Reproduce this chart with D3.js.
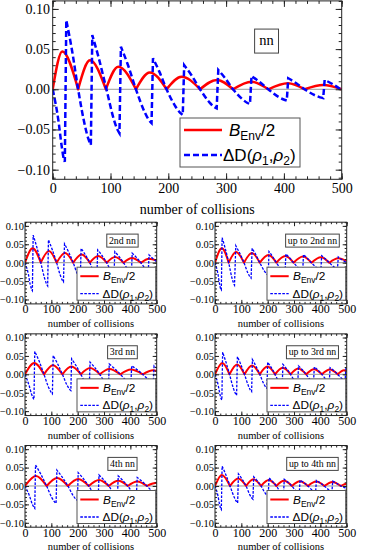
<!DOCTYPE html>
<html><head><meta charset="utf-8">
<script src="https://cdn.jsdelivr.net/npm/d3@7"></script>
<style>body{margin:0;background:#fff} svg{display:block}</style>
</head><body>
<svg id="c" width="380" height="559"></svg>
<script>
const xTicks=[0,100,200,300,400,500];
const yTicks=[-0.10,-0.05,0.00,0.05,0.10];
const xDomain=[0,500], yDomain=[-0.112,0.11];
const xMinorStep=20, yMinorStep=0.01;
const panelLabels=["nn","2nd nn","up to 2nd nn","3rd nn","up to 3rd nn","4th nn","up to 4th nn"];
const labelPos=[370,0.06];
const axisTitle="number of collisions";

const redNN=[[0,0],[16.6,0.047],[44,0],[64.5,0.036],[92,0],[113.5,0.028],[144,0],[168,0.021],[197,0],[223,0.0157],[255,0],[284,0.0116],[312,0],[344,0.0095],[373,0],[407,0.0075],[436,0],[468,0.0053],[500,0]];
const blueNN=[[0,0],[9.7,-0.038],[15.6,-0.071],[19,-0.086],[21,-0.09],
[23.5,0.086],[33.3,0.049],[44,0],[56,-0.046],[62.3,-0.063],[66,-0.069],
[68.5,0.0675],[79.8,0.0385],[93,0],[105.4,-0.0366],[111.7,-0.0498],[115.5,-0.0547],
[118,0.053],[130.2,0.0302],[144,0],[158.9,-0.0281],[166.4,-0.0382],[171,-0.042],
[173.5,0.0386],[184.5,0.022],[197,0],[212.4,-0.0214],[220.2,-0.0291],[225,-0.032],
[227.5,0.030],[240.4,0.0171],[255,0],[270.8,-0.0159],[278.8,-0.0216],[283.7,-0.0237],
[286.5,0.024],[298.5,0.0137],[312,0],[328.1,-0.0123],[336.3,-0.0167],[341.3,-0.0183],
[344,0.0165],[357.6,0.0094],[373,0],[390.6,-0.0094],[399.6,-0.0127],[405,-0.014],
[407.5,0.0137],[420.9,0.0078],[436,0],[453.6,-0.0074],[462.6,-0.01],[468,-0.011],
[470.5,0.0116],[484,0.0066],[500,-0.001]];

const red2=[[0,0],[29,0.039],[60,0],[91,0.032],[120,0],[152,0.026],[183,0],[215,0.022],[246,0],[278,0.018],[310,0],[342,0.0155],[374,0],[406,0.013],[440,0],[471,0.011],[500,0.006]];
const blue2=[[0,0],[13,-0.032],[20,-0.06],[25,-0.072],[28,-0.076],
[31,0.075],[44.6,0.0428],[60,0],[74.3,-0.0422],[81.6,-0.0573],[86,-0.063],
[89,0.062],[103.6,0.0353],[120,0],[134.3,-0.0348],[141.6,-0.0473],[146,-0.052],
[150,0.051],[165.5,0.0291],[183,0],[197.9,-0.0295],[205.4,-0.040],[210,-0.044],
[213,0.039],[228.5,0.0222],[246,0],[260.9,-0.0248],[268.4,-0.0337],[273,-0.037],
[276,0.0345],[292,0.0197],[310,0],[325.4,-0.0214],[333.2,-0.0291],[338,-0.032],
[341,0.030],[356.5,0.0171],[374,0],[390.5,-0.0181],[398.9,-0.0246],[404,-0.027],
[407,0.0255],[422.5,0.0145],[440,0],[455.4,-0.0154],[463.2,-0.0209],[468,-0.023],
[471,0.021],[484,0.012],[500,0.003]];

const redU2=[[0,0],[26,0.039],[52,0],[80,0.029],[110,0],[140,0.026],[170,0],[203,0.021],[233,0],[267,0.018],[298,0],[334,0.017],[366,0],[402,0.015],[434,0],[468,0.012],[500,0.004]];
const blueU2=[[0,0],[11,-0.03],[17,-0.057],[21,-0.07],[24,-0.074],
[27,0.068],[38.8,0.0388],[52,0],[64.1,-0.0409],[70.3,-0.0555],[74,-0.061],
[79,0.046],[93.6,0.0262],[110,0],[124.9,-0.0281],[132.4,-0.0382],[137,-0.042],
[141,0.039],[154.6,0.0222],[170,0],[187.6,-0.0228],[196.6,-0.0309],[202,-0.034],
[205,0.030],[218.2,0.0171],[233,0],[251.2,-0.0181],[260.4,-0.0246],[266,-0.027],
[269,0.0235],[282.6,0.0134],[298,0],[317.3,-0.0147],[327,-0.020],[333,-0.022],
[336,0.022],[350.1,0.0125],[366,0],[385.8,-0.0134],[395.9,-0.0182],[402,-0.02],
[405,0.019],[418.6,0.0108],[434,0],[451.1,-0.0114],[459.7,-0.0155],[465,-0.017],
[468,0.0155],[482,0.008],[500,0.0]];

const red3=[[0,0],[35,0.031],[72,0],[106,0.025],[142,0],[176,0.021],[212,0],[247,0.017],[284,0],[320,0.0145],[362,0],[402,0.013],[447,0],[487,0.011],[500,0.009]];
const blue3=[[0,0],[15,-0.029],[25,-0.054],[31,-0.065],[34,-0.068],
[37,0.062],[54,0.0353],[72,0],[89.6,-0.0355],[98.6,-0.0482],[104,-0.053],
[107,0.051],[123.5,0.0291],[142,0],[159.6,-0.0295],[168.6,-0.040],[174,-0.044],
[177,0.042],[193.5,0.0239],[212,0],[229.6,-0.0241],[238.6,-0.0328],[244,-0.036],
[247,0.033],[264.4,0.0188],[284,0],[302.2,-0.0201],[311.4,-0.0273],[317,-0.03],
[320,0.028],[339.7,0.016],[362,0],[384,-0.0168],[395.2,-0.0228],[402,-0.025],
[405,0.023],[424.7,0.0131],[447,0],[469,-0.0141],[480.2,-0.0191],[487,-0.021],
[490,0.023],[500,0.017]];

const redU3=[[0,0],[28,0.031],[55,0],[84,0.027],[112,0],[141,0.024],[170,0],[199,0.021],[228,0],[257,0.018],[287,0],[316,0.016],[346,0],[376,0.014],[406,0],[436,0.013],[466,0],[490,0.011],[500,0.010]];
const blueU3=[[0,0],[12,-0.029],[19,-0.055],[23,-0.066],[26,-0.070],
[29,0.060],[41.2,0.0342],[55,0],[69.9,-0.0382],[77.4,-0.0519],[82,-0.057],
[85,0.048],[97.7,0.0274],[112,0],[126.9,-0.0315],[134.4,-0.0428],[139,-0.047],
[142,0.040],[155.2,0.0228],[170,0],[184.9,-0.0255],[192.4,-0.0346],[197,-0.038],
[200,0.033],[213.2,0.0188],[228,0],[242.9,-0.0214],[250.4,-0.0291],[255,-0.032],
[258,0.027],[271.6,0.0154],[287,0],[301.9,-0.0181],[309.4,-0.0246],[314,-0.027],
[317,0.023],[330.6,0.0131],[346,0],[361.4,-0.0154],[369.2,-0.0209],[374,-0.023],
[377,0.020],[390.6,0.0114],[406,0],[421.4,-0.0134],[429.2,-0.0182],[434,-0.02],
[437,0.018],[450.6,0.0103],[466,0],[481.4,-0.0114],[489.2,-0.0155],[494,-0.017],
[497,0.016],[500,0.0145]];

const red4=[[0,0],[42,0.027],[82,0],[122,0.022],[163,0],[202,0.019],[242,0],[281,0.016],[318,0],[354,0.014],[390,0],[426,0.012],[463,0],[482,0.006],[500,0.009]];
const blue4=[[0,0],[17,-0.027],[28,-0.05],[34,-0.058],[37,-0.061],
[40,0.057],[59.7,0.0325],[82,0],[101.8,-0.0315],[111.9,-0.0428],[118,-0.047],
[121,0.043],[140.7,0.0245],[163,0],[182.8,-0.0261],[192.9,-0.0355],[199,-0.039],
[202,0.036],[220.8,0.0205],[242,0],[261.8,-0.0214],[271.9,-0.0291],[278,-0.032],
[281,0.030],[298.4,0.0171],[318,0],[336.2,-0.0188],[345.4,-0.0255],[351,-0.028],
[354,0.027],[370.9,0.0154],[390,0],[408.2,-0.0168],[417.4,-0.0228],[423,-0.025],
[426,0.023],[443.4,0.0131],[463,0],[484,-0.015],[500,-0.021]];

const redU4=[[0,0],[26,0.030],[57,0],[88,0.020],[118,0],[146,0.018],[175,0],[204,0.016],[233,0],[262,0.014],[292,0],[322,0.013],[353,0],[384,0.012],[415,0],[446,0.011],[478,0],[490,0.0045],[500,0.006]];
const blueU4=[[0,0],[11,-0.026],[17,-0.049],[21,-0.06],[24,-0.064],
[27,0.054],[41.1,0.0308],[57,0],[73,-0.0308],[81.1,-0.0419],[86,-0.046],
[89,0.033],[102.6,0.0188],[118,0],[132.3,-0.0241],[139.6,-0.0328],[144,-0.036],
[147,0.025],[160.2,0.0143],[175,0],[189.9,-0.0188],[197.4,-0.0255],[202,-0.028],
[205,0.022],[218.2,0.0125],[233,0],[247.9,-0.0154],[255.4,-0.0209],[260,-0.023],
[263,0.018],[276.6,0.0103],[292,0],[307.4,-0.0134],[315.2,-0.0182],[320,-0.02],
[323,0.016],[337.1,0.0091],[353,0],[369,-0.0114],[377.1,-0.0155],[382,-0.017],
[385,0.015],[399.1,0.0086],[415,0],[431,-0.01],[439.1,-0.0137],[444,-0.015],
[447,0.013],[461.6,0.0074],[478,0],[500,-0.006]];

const svg=d3.select('#c');
let clipN=0;
const SERIF='"Liberation Serif","Times New Roman",serif';
const SANS='"Liberation Sans",Arial,sans-serif';

function splitRed(p){const runs=[];let cur=[p[0]];for(let i=1;i<p.length;i++){cur.push(p[i]);if(p[i][1]===0&&i<p.length-1){runs.push(cur);cur=[p[i]];}}runs.push(cur);return runs;}
function splitBlue(p){const runs=[];let cur=[p[0]];for(let i=1;i<p.length;i++){if(p[i][1]>p[i-1][1]){runs.push(cur);cur=[p[i]];}else cur.push(p[i]);}runs.push(cur);return runs;}
function joinRuns(runs,line){return runs.map((r,i)=>{const s=line(r);return i?'L'+s.slice(1):s;}).join('');}

function panel(L,red,blue,label){
  const x=d3.scaleLinear().domain(xDomain).range([L.x0,L.x1]);
  const y=d3.scaleLinear().domain(yDomain).range([L.y1,L.y0]);
  const g=svg.append('g');
  const cid='clip'+(clipN++);
  svg.append('clipPath').attr('id',cid).append('rect')
    .attr('x',L.x0).attr('y',L.y0).attr('width',L.x1-L.x0).attr('height',L.y1-L.y0);
  const pg=g.append('g').attr('clip-path',`url(#${cid})`);
  pg.append('line').attr('x1',L.x0).attr('x2',L.x1).attr('y1',y(0)).attr('y2',y(0))
    .attr('stroke','#999').attr('stroke-width',1);
  const line=d3.line().x(d=>x(d[0])).y(d=>y(d[1])).curve(d3.curveMonotoneX);
  pg.append('path').attr('d',joinRuns(splitRed(red),line)).attr('fill','none')
    .attr('stroke','#ff0000').attr('stroke-width',L.redW).attr('stroke-linejoin','round');
  pg.append('path').attr('d',joinRuns(splitBlue(blue),line)).attr('fill','none')
    .attr('stroke','#0000ff').attr('stroke-width',L.blueW).attr('stroke-dasharray',L.dash);

  const xMinor=d3.range(xDomain[0],xDomain[1]+1e-9,xMinorStep);
  const yMinor=d3.range(-0.11,0.1100001,yMinorStep).map(v=>+v.toFixed(3));
  const style=(sel,fs)=>{sel.select('.domain').remove();
    sel.selectAll('line').attr('stroke','#222');
    sel.selectAll('text').attr('font-family',SERIF).attr('font-size',fs).attr('fill','#000');
    sel.attr('font-family',null).attr('font-size',null);};
  g.append('g').attr('transform',`translate(0,${L.y1})`).call(d3.axisBottom(x).tickValues(xMinor).tickSize(-L.minor).tickFormat('')).call(s=>style(s,L.tickFsX));
  g.append('g').attr('transform',`translate(0,${L.y0})`).call(d3.axisTop(x).tickValues(xMinor).tickSize(-L.minor).tickFormat('')).call(s=>style(s,L.tickFsX));
  g.append('g').attr('transform',`translate(${L.x0},0)`).call(d3.axisLeft(y).tickValues(yMinor).tickSize(-L.minor).tickFormat('')).call(s=>style(s,L.tickFsY));
  g.append('g').attr('transform',`translate(${L.x1},0)`).call(d3.axisRight(y).tickValues(yMinor).tickSize(-L.minor).tickFormat('')).call(s=>style(s,L.tickFsY));
  g.append('g').attr('transform',`translate(0,${L.y1})`).call(d3.axisBottom(x).tickValues(xTicks).tickSize(-L.major).tickPadding(L.xPad).tickFormat(d3.format('d'))).call(s=>style(s,L.tickFsX));
  g.append('g').attr('transform',`translate(0,${L.y0})`).call(d3.axisTop(x).tickValues(xTicks).tickSize(-L.major).tickFormat('')).call(s=>style(s,L.tickFsX));
  g.append('g').attr('transform',`translate(${L.x0},0)`).call(d3.axisLeft(y).tickValues(yTicks).tickSize(-L.major).tickPadding(L.yPad).tickFormat(d3.format('.2f'))).call(s=>style(s,L.tickFsY));
  g.append('g').attr('transform',`translate(${L.x1},0)`).call(d3.axisRight(y).tickValues(yTicks).tickSize(-L.major).tickFormat('')).call(s=>style(s,L.tickFsY));
  g.append('rect').attr('x',L.x0).attr('y',L.y0).attr('width',L.x1-L.x0).attr('height',L.y1-L.y0)
    .attr('fill','none').attr('stroke','#222').attr('stroke-width',1);
  g.append('text').attr('x',(L.x0+L.x1)/2).attr('y',L.y1+L.axisDy).attr('text-anchor','middle')
    .attr('font-family',SERIF).attr('font-size',L.axisFs).text(axisTitle);

  const lb=g.append('g');
  const lt=lb.append('text').attr('x',x(labelPos[0])).attr('y',y(labelPos[1])+0.3*L.lab.fs)
    .attr('text-anchor','middle').attr('font-family',SERIF).attr('font-size',L.lab.fs).text(label);
  const tw=lt.node().getComputedTextLength();
  lb.insert('rect','text').attr('x',x(labelPos[0])-tw/2-L.lab.padX).attr('y',y(labelPos[1])-L.lab.h/2)
    .attr('width',tw+2*L.lab.padX).attr('height',L.lab.h).attr('fill','#fff').attr('stroke','#444').attr('stroke-width',1);

  const G=L.lg;
  const lg=g.append('g').attr('transform',`translate(${L.x0+G.x},${L.y0+G.y})`);
  lg.append('rect').attr('width',G.w).attr('height',G.h).attr('fill','#fff').attr('stroke','#555').attr('stroke-width',1);
  lg.append('line').attr('x1',G.s0).attr('x2',G.s1).attr('y1',G.e1).attr('y2',G.e1)
    .attr('stroke','#ff0000').attr('stroke-width',L.redW);
  lg.append('line').attr('x1',G.s0).attr('x2',G.s1).attr('y1',G.e2).attr('y2',G.e2)
    .attr('stroke','#0000ff').attr('stroke-width',L.blueW).attr('stroke-dasharray',L.dash);
  const sd=G.sub*0.35;
  const t1=lg.append('text').attr('x',G.t1).attr('y',G.e1+0.35*G.fs).attr('font-family',SANS).attr('font-size',G.fs);
  t1.append('tspan').attr('font-style','italic').text('B');
  t1.append('tspan').attr('font-size',G.sub).attr('dy',sd).text('Env');
  t1.append('tspan').attr('dy',-sd).text('/2');
  const t2=lg.append('text').attr('x',G.t2).attr('y',G.e2+0.35*G.fs).attr('font-family',SANS).attr('font-size',G.fs);
  t2.append('tspan').text('\u0394D(');
  t2.append('tspan').attr('font-style','italic').text('\u03C1');
  t2.append('tspan').attr('font-size',G.sub).attr('dy',sd).text('1');
  t2.append('tspan').attr('dy',-sd).text(',');
  t2.append('tspan').attr('font-style','italic').text('\u03C1');
  t2.append('tspan').attr('font-size',G.sub).attr('dy',sd).text('2');
  t2.append('tspan').attr('dy',-sd).text(')');
}

const big={x0:52.7,x1:341.7,y0:0.9,y1:179.3,tickFsX:14,tickFsY:14,major:6,minor:3,xPad:4,yPad:2.7,
  axisFs:14,axisDy:35,redW:2.5,blueW:2.5,dash:'6,3',
  lg:{x:127.3,y:117.1,w:120,h:49,s0:4,s1:42,e1:12,e2:37,t1:49,t2:43,fs:17,sub:12},
  lab:{fs:14.5,padX:4.7,h:24}};
panel(big,redNN,blueNN,panelLabels[0]);

const smallSeries=[[red2,blue2],[redU2,blueU2],[red3,blue3],[redU3,blueU3],[red4,blue4],[redU4,blueU4]];
smallSeries.forEach((s,i)=>{
  const col=i%2,row=Math.floor(i/2);
  const x0=25+col*190, y0=222.2+row*111.65;
  const L={x0:x0,x1:x0+131.7,y0:y0,y1:y0+81.7,tickFsX:12,tickFsY:10.4,major:4,minor:2,xPad:1,yPad:1,
    axisFs:10.5,axisDy:23,redW:2,blueW:1.3,dash:'2.6,1.4',
    lg:{x:52,y:45,w:78.7,h:33,s0:3.3,s1:21.7,e1:9,e2:26.5,t1:26,t2:25.5,fs:11.8,sub:8.5},
    lab:{fs:9.8,padX:2.2,h:13}};
  panel(L,s[0],s[1],panelLabels[i+1]);
});
</script>
</body></html>
